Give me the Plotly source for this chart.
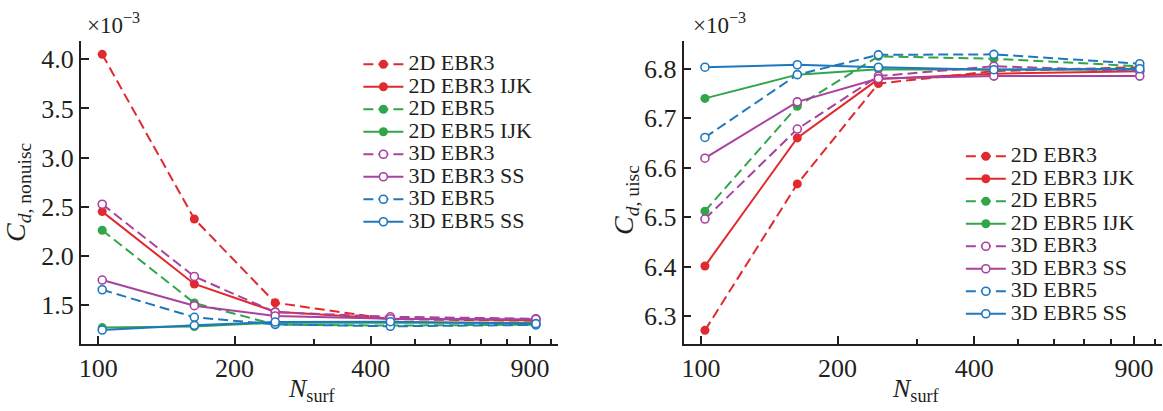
import plotly.graph_objects as go

# Surface mesh sizes (number of surface cells)
n_surf = [102, 163, 246, 442, 927]

# Drag coefficients, in units of 1e-3
series_names = [
    "2D EBR3", "2D EBR3 IJK", "2D EBR5", "2D EBR5 IJK",
    "3D EBR3", "3D EBR3 SS", "3D EBR5", "3D EBR5 SS",
]

cd_nonuisc_2d_ebr3 = [4.05, 2.375, 1.523, 1.355, 1.34]
cd_nonuisc_2d_ebr3_ijk = [2.45, 1.714, 1.432, 1.36, 1.345]
cd_nonuisc_2d_ebr5 = [2.26, 1.52, 1.30, 1.29, 1.30]
cd_nonuisc_2d_ebr5_ijk = [1.27, 1.28, 1.32, 1.32, 1.32]
cd_nonuisc_3d_ebr3 = [2.525, 1.79, 1.426, 1.38, 1.36]
cd_nonuisc_3d_ebr3_ss = [1.754, 1.493, 1.388, 1.36, 1.355]
cd_nonuisc_3d_ebr5 = [1.655, 1.375, 1.303, 1.283, 1.297]
cd_nonuisc_3d_ebr5_ss = [1.245, 1.293, 1.327, 1.33, 1.31]

cd_uisc_2d_ebr3 = [6.271, 6.567, 6.770, 6.795, 6.803]
cd_uisc_2d_ebr3_ijk = [6.401, 6.660, 6.779, 6.790, 6.795]
cd_uisc_2d_ebr5 = [6.512, 6.724, 6.825, 6.820, 6.805]
cd_uisc_2d_ebr5_ijk = [6.740, 6.788, 6.799, 6.798, 6.798]
cd_uisc_3d_ebr3 = [6.496, 6.678, 6.785, 6.805, 6.795]
cd_uisc_3d_ebr3_ss = [6.619, 6.733, 6.780, 6.785, 6.785]
cd_uisc_3d_ebr5 = [6.661, 6.788, 6.828, 6.829, 6.810]
cd_uisc_3d_ebr5_ss = [6.803, 6.808, 6.803, 6.798, 6.800]

x_tick_vals = [100, 200, 400, 900]
x_minor_vals = [300, 500, 600, 700, 800, 1000]
left_y_ticks = [1.5, 2.0, 2.5, 3.0, 3.5, 4.0]
right_y_ticks = [6.3, 6.4, 6.5, 6.6, 6.7, 6.8]

nonuisc = [cd_nonuisc_2d_ebr3, cd_nonuisc_2d_ebr3_ijk, cd_nonuisc_2d_ebr5,
           cd_nonuisc_2d_ebr5_ijk, cd_nonuisc_3d_ebr3, cd_nonuisc_3d_ebr3_ss,
           cd_nonuisc_3d_ebr5, cd_nonuisc_3d_ebr5_ss]
uisc = [cd_uisc_2d_ebr3, cd_uisc_2d_ebr3_ijk, cd_uisc_2d_ebr5,
        cd_uisc_2d_ebr5_ijk, cd_uisc_3d_ebr3, cd_uisc_3d_ebr3_ss,
        cd_uisc_3d_ebr5, cd_uisc_3d_ebr5_ss]

RED, GREEN, PURPLE, BLUE = "#e02a2e", "#30a54a", "#a8429f", "#1f78be"
styles = [
    (RED, "10px,5px", True), (RED, "solid", True),
    (GREEN, "10px,5px", True), (GREEN, "solid", True),
    (PURPLE, "10px,5px", False), (PURPLE, "solid", False),
    (BLUE, "10px,5px", False), (BLUE, "solid", False),
]

W, H = 1163, 411
FONT = "Liberation Serif, Times New Roman, DejaVu Serif, serif"
INK = "#231f20"


def px_x(p):
    return p / W


def px_y(p):
    return 1 - p / H


fig = go.Figure()

for panel, (data, xa, ya, leg) in enumerate([
        (nonuisc, "x", "y", "legend"), (uisc, "x2", "y2", "legend2")]):
    for name, vals, (color, dash, filled) in zip(series_names, data, styles):
        fig.add_trace(go.Scatter(
            x=n_surf, y=vals, xaxis=xa, yaxis=ya, legend=leg,
            mode="lines+markers",
            name=("<span style='font-size:22px;font-family:Liberation Serif,"
                  f" serif'>{name}</span>"),
            line=dict(color=color, width=2, dash=dash),
            marker=dict(symbol="circle", size=9 if filled else 8,
                        color=color if filled else "white",
                        line=dict(color=color, width=0 if filled else 1.6)),
        ))

axis_common = dict(
    showline=True, linecolor=INK, linewidth=1.6, mirror=False,
    showgrid=False, zeroline=False,
    ticks="inside", ticklen=8, tickwidth=1.5, tickcolor=INK,
    tickfont=dict(family=FONT, size=26, color=INK),
)

x_common = dict(
    axis_common, type="log", range=[1.9614, 3.0154],
    tickmode="array", tickvals=x_tick_vals,
    ticktext=[str(v) for v in x_tick_vals],
    minor=dict(tickmode="array", tickvals=x_minor_vals, ticks="inside",
               ticklen=5.5, tickwidth=1.5, tickcolor=INK, showgrid=False),
)

y_dom = [px_y(344), px_y(41)]

fig.update_layout(
    width=W, height=H,
    margin=dict(l=0, r=0, t=0, b=0),
    paper_bgcolor="white", plot_bgcolor="white",
    font=dict(family=FONT, color=INK),
    xaxis=dict(x_common, domain=[px_x(79), px_x(556.7)], anchor="y"),
    yaxis=dict(axis_common, domain=y_dom, anchor="x",
               range=[1.103, 4.186], tickmode="array",
               tickvals=left_y_ticks, tickformat=".1f"),
    xaxis2=dict(x_common, domain=[px_x(682.7), px_x(1161.7)], anchor="y2"),
    yaxis2=dict(axis_common, domain=y_dom, anchor="x2",
                range=[6.2434, 6.856], tickmode="array",
                tickvals=right_y_ticks, tickformat=".1f"),
    legend=dict(x=px_x(357), y=px_y(48), xanchor="left", yanchor="top",
                font=dict(family=FONT, size=15, color=INK),
                bgcolor="rgba(0,0,0,0)", itemwidth=40, tracegroupgap=0),
    legend2=dict(x=px_x(960.5), y=px_y(140), xanchor="left", yanchor="top",
                 font=dict(family=FONT, size=15, color=INK),
                 bgcolor="rgba(0,0,0,0)", itemwidth=40, tracegroupgap=0),
    showlegend=True,
)

title_font = dict(family=FONT, size=26, color=INK)
ytitle_font = dict(family=FONT, size=28, color=INK)
exp_font = dict(family=FONT, size=23, color=INK)
annotations = [
    # exponent labels above each y axis
    dict(text="×10<sup>−3</sup>", x=px_x(83), y=px_y(40), xanchor="left",
         yanchor="bottom", font=exp_font),
    dict(text="×10<sup>−3</sup>", x=px_x(690), y=px_y(40), xanchor="left",
         yanchor="bottom", font=exp_font),
    # y axis titles
    dict(text="<i>C</i><sub><i>d</i>, nonuisc</sub>", x=px_x(15), y=px_y(192),
         textangle=-90, xanchor="center", yanchor="middle", font=ytitle_font),
    dict(text="<i>C</i><sub><i>d</i>, uisc</sub>", x=px_x(624), y=px_y(200),
         textangle=-90, xanchor="center", yanchor="middle", font=ytitle_font),
    # x axis titles
    dict(text="<i>N</i><sub>surf</sub>", x=px_x(311), y=px_y(390),
         xanchor="center", yanchor="middle", font=title_font),
    dict(text="<i>N</i><sub>surf</sub>", x=px_x(916), y=px_y(390),
         xanchor="center", yanchor="middle", font=title_font),
]
for a in annotations:
    a.update(xref="paper", yref="paper", showarrow=False)
fig.update_layout(annotations=annotations)

fig.write_html("out.html")
